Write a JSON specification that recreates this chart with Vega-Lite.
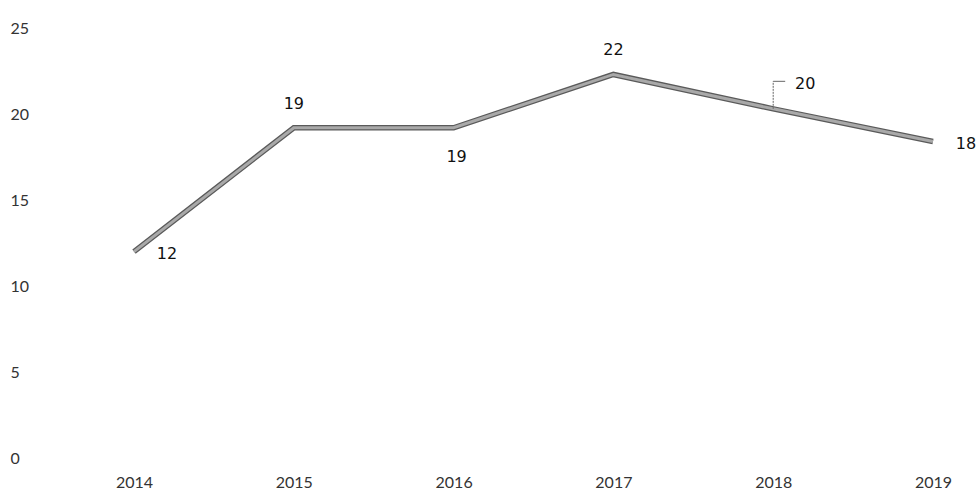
{
  "$schema": "https://vega.github.io/schema/vega-lite/v6.json",
  "width": 937,
  "height": 430,
  "autosize": {"type": "none"},
  "padding": {"left": 40, "top": 28, "right": 0, "bottom": 35},
  "background": "white",
  "config": {"view": {"stroke": null}, "font": "Lato"},
  "data": {"values": [
    {"year": "2014", "value": 12.0},
    {"year": "2015", "value": 19.2},
    {"year": "2016", "value": 19.2},
    {"year": "2017", "value": 22.3},
    {"year": "2018", "value": 20.3},
    {"year": "2019", "value": 18.4}
  ]},
  "encoding": {
    "x": {"field": "year", "type": "ordinal", "scale": {"type": "point", "range": [94, 893], "padding": 0},
      "axis": {"title": null, "labelAngle": 0, "domain": false, "ticks": false, "labelPadding": 16, "labelFontSize": 16, "labelColor": "#333", "labelFont": "Lato"}},
    "y": {"field": "value", "type": "quantitative", "scale": {"domain": [0, 25], "nice": false},
      "axis": {"title": null, "values": [0, 5, 10, 15, 20, 25], "domain": false, "ticks": false, "grid": false, "labelAlign": "left", "labelPadding": 30, "labelFontSize": 16, "labelColor": "#333", "labelFont": "Lato"}}
  },
  "layer": [
    {"mark": {"type": "line", "color": "#5a5a5a", "strokeWidth": 5.5, "strokeJoin": "miter"}},
    {"mark": {"type": "line", "color": "#a9a9a9", "strokeWidth": 3, "strokeJoin": "miter"}},
    {"transform": [{"filter": "datum.year == '2018'"}],
     "mark": {"type": "rule", "color": "#666", "strokeWidth": 1, "strokeDash": [2, 1]},
     "encoding": {"y2": {"datum": 21.9}}},
    {"transform": [{"filter": "datum.year == '2018'"}],
     "mark": {"type": "rule", "color": "#666", "strokeWidth": 1, "x2Offset": 12},
     "encoding": {"x2": {"field": "year"}, "y": {"datum": 21.9}}},
    {"transform": [{"filter": "datum.year == '2014' || datum.year == '2019'"}],
     "mark": {"type": "text", "font": "DejaVu Sans", "fontSize": 16, "color": "#111", "dx": 33, "dy": 2, "baseline": "middle"},
     "encoding": {"text": {"field": "value", "format": ".0f"}}},
    {"transform": [{"filter": "datum.year == '2015' || datum.year == '2017'"}],
     "mark": {"type": "text", "font": "DejaVu Sans", "fontSize": 16, "color": "#111", "dx": 0, "dy": -24, "baseline": "middle"},
     "encoding": {"text": {"field": "value", "format": ".0f"}}},
    {"transform": [{"filter": "datum.year == '2016'"}],
     "mark": {"type": "text", "font": "DejaVu Sans", "fontSize": 16, "color": "#111", "dx": 3, "dy": 29, "baseline": "middle"},
     "encoding": {"text": {"field": "value", "format": ".0f"}}},
    {"transform": [{"filter": "datum.year == '2018'"}],
     "mark": {"type": "text", "font": "DejaVu Sans", "fontSize": 16, "color": "#111", "dx": 32, "dy": -25, "baseline": "middle"},
     "encoding": {"text": {"field": "value", "format": ".0f"}}}
  ]
}
